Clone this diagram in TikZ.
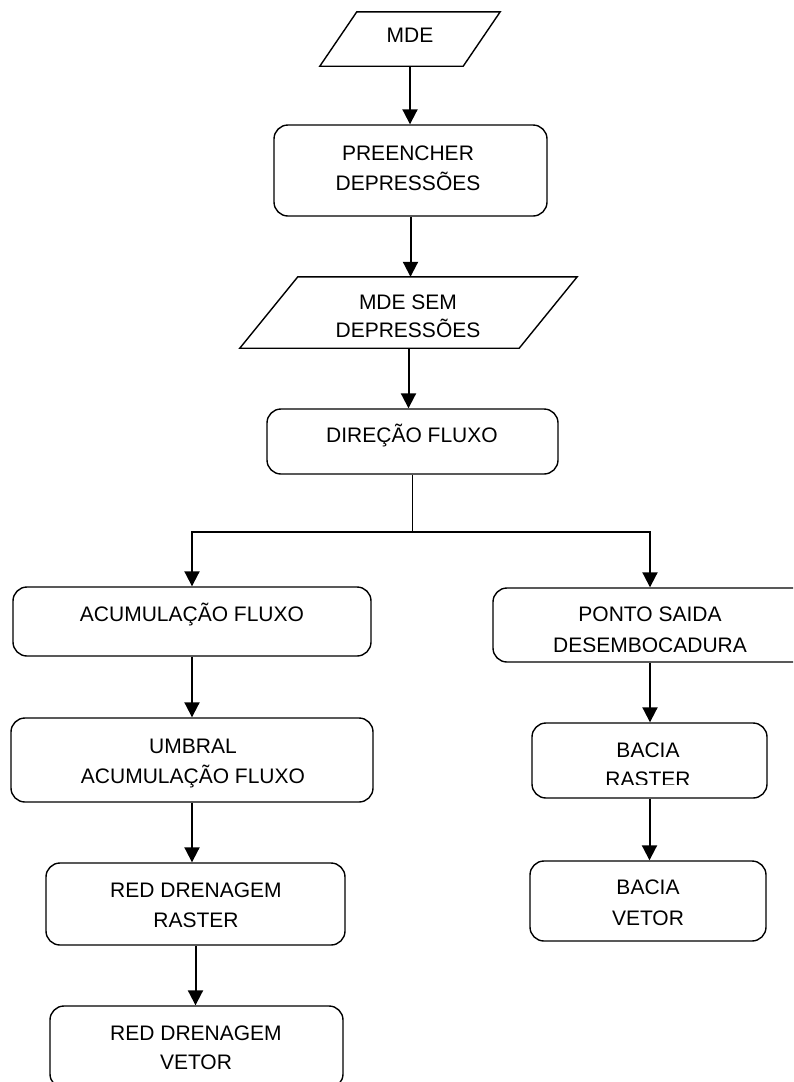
\documentclass[tikz,border=0pt]{standalone}
\usepackage{fontspec}
\setmainfont{Liberation Sans}
\usetikzlibrary{arrows.meta,calc}
\begin{document}
\begin{tikzpicture}[x=1pt,y=-1pt,
  box/.style={draw, line width=1.4pt, rounded corners=14pt, minimum width=#1, inner sep=0pt},
  io/.style={draw=none, minimum width=#1, inner sep=0pt},
  txt/.style={anchor=base, inner sep=0pt, font=\fontsize{21}{25}\selectfont},
  arr/.style={line width=2pt, -{Triangle[width=15pt,length=15pt]}},
  thinline/.style={line width=1.2pt},
  slant/.style={line width=1.4pt}]
\useasboundingbox (0,0) rectangle (793,1082);
\clip (0,0) rectangle (793,1082);

% input/output parallelograms (frames)
\node[io=143pt, minimum height=54pt] (mde) at (410,39) {};
\draw[slant] ($(mde.north west)+(18.5,0)$) -- ($(mde.north east)+(18.5,0)$)
  -- ($(mde.south east)+(-18.5,0)$) -- ($(mde.south west)+(-18.5,0)$) -- cycle;
\node[io=279pt, minimum height=71pt] (mdesem) at (408.5,312.5) {};
\draw[slant] ($(mdesem.north west)+(29,0)$) -- ($(mdesem.north east)+(29,0)$)
  -- ($(mdesem.south east)+(-29,0)$) -- ($(mdesem.south west)+(-29,0)$) -- cycle;

% process boxes
\node[box=273pt, minimum height=91pt] (preen) at (410.5,170.5) {};
\node[box=291pt, minimum height=65pt] (dir) at (412.5,441.5) {};
\node[box=358pt, minimum height=69pt] (acc) at (192,621.5) {};
\node[box=314pt, minimum height=74pt] (ponto) at (650,625) {};
\node[box=362pt, minimum height=84pt] (umbral) at (192,760) {};
\node[box=299pt, minimum height=82pt] (redr) at (195.5,904) {};
\node[box=293pt, minimum height=82pt] (redv) at (196.5,1047) {};
\node[box=235pt, minimum height=75pt] (baciar) at (649.5,760.5) {};
\node[box=236pt, minimum height=80pt] (baciav) at (648,901) {};

% texts
\node[txt] (t1) at (410,42.5) {MDE};
\node[txt] (t2) at (408,160.5) {PREENCHER};
\node[txt] (t3) at (408,190.5) {DEPRESSÕES};
\node[txt] (t4) at (408,309.5) {MDE SEM};
\node[txt] (t5) at (408,337.5) {DEPRESSÕES};
\node[txt] (t6) at (412,442.5) {DIREÇÃO FLUXO};
\node[txt] (t7) at (192,621.5) {ACUMULAÇÃO FLUXO};
\node[txt] (t8) at (650,621) {PONTO SAIDA};
\begin{scope}
  \clip (ponto.north west) rectangle (793,651);
  \node[txt] (t9) at (650,652.5) {DESEMBOCADURA};
\end{scope}
\node[txt] (t10) at (193,753.5) {UMBRAL};
\node[txt] (t11) at (193,783.5) {ACUMULAÇÃO FLUXO};
\node[txt] (t12) at (648,757.5) {BACIA};
\begin{scope}
  \clip (baciar.north west) rectangle (793,784);
  \node[txt] (t13) at (648,786) {RASTER};
\end{scope}
\node[txt] (t14) at (196,897.5) {RED DRENAGEM};
\node[txt] (t15) at (196,927.5) {RASTER};
\node[txt] (t16) at (648,894.5) {BACIA};
\node[txt] (t17) at (648,925.5) {VETOR};
\node[txt] (t18) at (196,1040.5) {RED DRENAGEM};
\node[txt] (t19) at (196,1069.5) {VETOR};

% connectors
\draw[arr] (mde.south) -- (mde.south |- preen.north);
\draw[arr] (preen.south) -- (preen.south |- mdesem.north);
\draw[arr] (mdesem.south) -- (mdesem.south |- dir.north);
\coordinate (split) at ($(dir.south)+(0,57)$);
\draw[thinline] (dir.south) -- (split);
\draw[arr] (split) -| (acc.north);
\draw[arr] (split) -| (ponto.north);
\draw[arr] (acc.south) -- (acc.south |- umbral.north);
\draw[arr] (umbral.south) -- (umbral.south |- redr.north);
\draw[arr] (redr.south) -- (redr.south |- redv.north);
\draw[arr] (ponto.south) -- (ponto.south |- baciar.north);
\draw[arr] (baciar.south) -- (baciar.south |- baciav.north);
\end{tikzpicture}
\end{document}
